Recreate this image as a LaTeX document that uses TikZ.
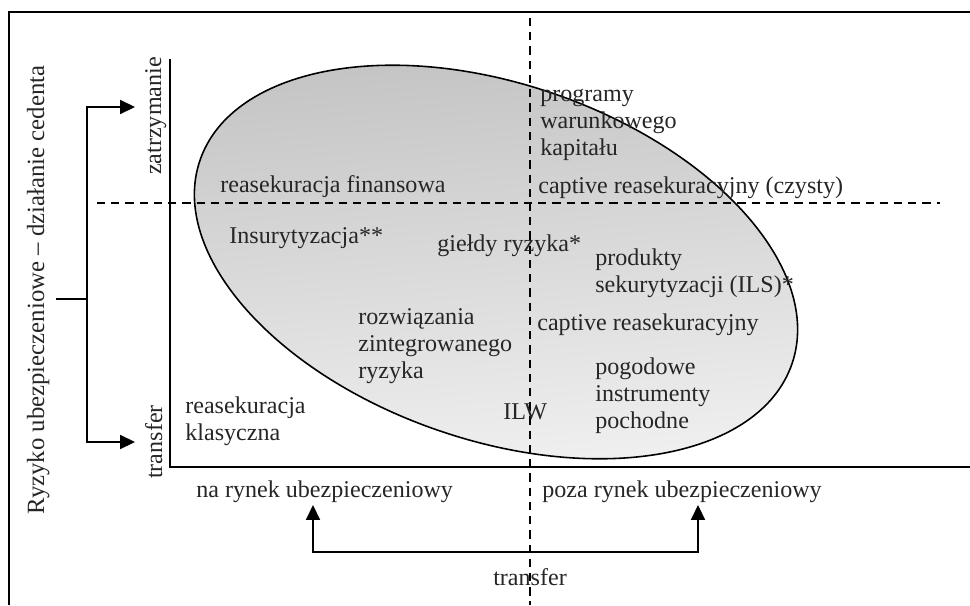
\documentclass[tikz,border=0pt]{standalone}
\usepackage{fontspec}
\setmainfont{Liberation Serif}
\usetikzlibrary{arrows.meta}

\tikzset{
  txt/.style={anchor=base west, inner sep=0pt, align=left, text=black!85,
    font=\fontsize{13.7}{15.3}\selectfont},
  vtxt/.style={anchor=base, inner sep=0pt, rotate=90, text=black!85,
    font=\fontsize{13.7}{15.3}\selectfont},
  axis/.style={line width=0.85pt},
  split/.style={line width=0.8pt, dash pattern=on 4.7pt off 3.4pt},
  bracket/.style={line width=0.9pt, -{Triangle[length=8.5pt,width=8pt]}}
}

\begin{document}
\begin{tikzpicture}[x=0.02cm,y=-0.02cm]
  \useasboundingbox (0,0) rectangle (970,605);
  % frame
  \draw[line width=1.2pt] (9,605) -- (9,12) -- (970,12);
  % ellipse with the instruments
  \shade[top color=black!24, bottom color=black!5, shading angle=5,
    draw=black, line width=0.9pt, rotate around={-19:(496,262)}]
    (496,262) ellipse [x radius=313, y radius=178];
  % axes and quadrants
  \draw[axis] (170,59) -- (170,467) -- (970,467);
  \draw[split] (97,203) -- (940,203);
  \draw[split] (530,18) -- (530,605);
  % labels inside (multi-line ones sit on their last baseline)
  \node[txt] (finans) at (220,192) {reasekuracja finansowa};
  \node[txt] (progr) at (540,155) {programy\\warunkowego\\kapitału};
  \node[txt] (captc) at (538,193) {captive reasekuracyjny (czysty)};
  \node[txt] (insur) at (229,243) {Insurytyzacja**};
  \node[txt] (gieldy) at (437,251) {giełdy ryzyka*};
  \node[txt] (ils) at (595,292) {produkty\\sekurytyzacji (ILS)*};
  \node[txt] (rozw) at (358,378) {rozwiązania\\zintegrowanego\\ryzyka};
  \node[txt] (capt) at (537,330) {captive reasekuracyjny};
  \node[txt] (pogod) at (595,428) {pogodowe\\instrumenty\\pochodne};
  \node[txt] (ilw) at (503,419) {ILW};
  \node[txt] (klas) at (185,440) {reasekuracja\\klasyczna};
  % axis labels
  \node[txt] (narynek) at (196,497) {na rynek ubezpieczeniowy};
  \node[txt] (pozarynek) at (542,497) {poza rynek ubezpieczeniowy};
  \node[txt, anchor=base] (transx) at (530,585) {transfer};
  \node[vtxt] (zatrz) at (161,116) {zatrzymanie};
  \node[vtxt] (transy) at (162,442) {transfer};
  \node[vtxt, font=\fontsize{14.1}{15.3}\selectfont] (ryzyko) at (44,290)
    {Ryzyko ubezpieczeniowe – działanie cedenta};
  % brackets
  \coordinate (ryzR) at (56,299);
  \coordinate (ryzM) at (87,299);
  \coordinate (zatTip) at (135,107);
  \coordinate (traTip) at (135,442);
  \draw[line width=0.9pt] (ryzR) -- (ryzM);
  \draw[bracket] (ryzM) |- (zatTip);
  \draw[bracket] (ryzM) |- (traTip);
  \coordinate (naTip) at (313,505);
  \coordinate (pozaTip) at (698,505);
  \coordinate (trM) at (505,552);
  \draw[bracket] (trM) -| (naTip);
  \draw[bracket] (trM) -| (pozaTip);
\end{tikzpicture}
\end{document}
